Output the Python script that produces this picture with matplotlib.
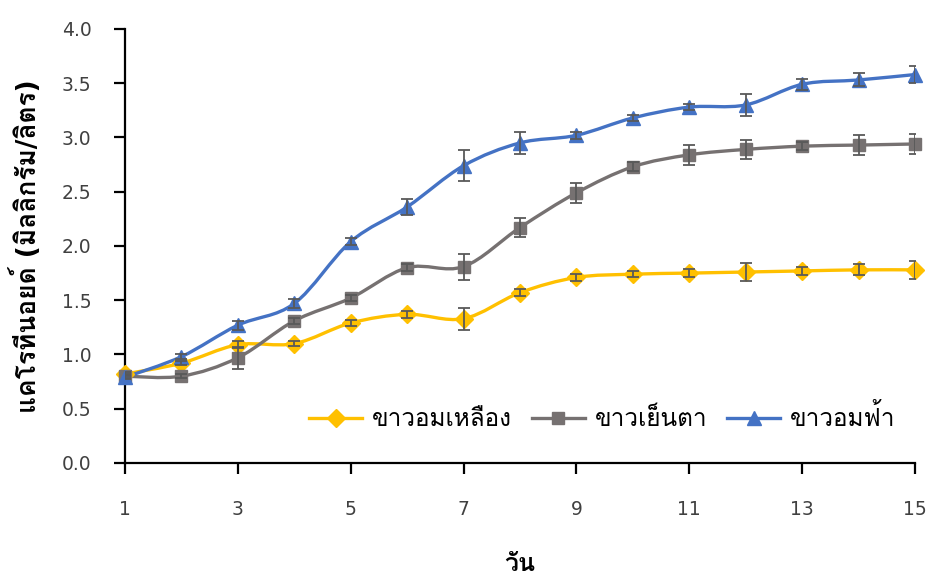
import numpy as np
import matplotlib
matplotlib.use("Agg")
import matplotlib.pyplot as plt
from matplotlib import font_manager
from matplotlib.ft2font import FT2Font
from matplotlib.path import Path
from matplotlib.patches import PathPatch
from matplotlib.lines import Line2D

# ===========================================================================
# data
days = [1, 2, 3, 4, 5, 6, 7, 8, 9, 10, 11, 12, 13, 14, 15]

yellow = [0.82, 0.92, 1.09, 1.10, 1.29, 1.37, 1.33, 1.57, 1.71, 1.74, 1.75, 1.76, 1.77, 1.78, 1.78]
yellow_err = [0.02, 0.02, 0.03, 0.02, 0.03, 0.03, 0.10, 0.03, 0.03, 0.03, 0.04, 0.08, 0.04, 0.05, 0.08]

gray = [0.80, 0.80, 0.97, 1.31, 1.52, 1.80, 1.81, 2.17, 2.49, 2.73, 2.84, 2.89, 2.92, 2.93, 2.94]
gray_err = [0.02, 0.02, 0.10, 0.03, 0.03, 0.03, 0.12, 0.09, 0.09, 0.04, 0.09, 0.09, 0.04, 0.09, 0.09]

blue = [0.79, 0.98, 1.27, 1.47, 2.04, 2.36, 2.74, 2.95, 3.02, 3.18, 3.28, 3.30, 3.49, 3.53, 3.58]
blue_err = [0.02, 0.02, 0.04, 0.04, 0.03, 0.07, 0.14, 0.10, 0.03, 0.03, 0.03, 0.10, 0.05, 0.06, 0.08]

names = ["ขาวอมเหลือง", "ขาวเย็นตา", "ขาวอมฟ้า"]
xticks = [1, 3, 5, 7, 9, 11, 13, 15]
yticks = [0.0, 0.5, 1.0, 1.5, 2.0, 2.5, 3.0, 3.5, 4.0]


# ===========================================================================
# find an installed font that has Thai glyphs
def thai_family():
    for f in font_manager.fontManager.ttflist:
        try:
            if 0x0E02 in FT2Font(f.fname).get_charmap():
                return f.name
        except Exception:
            pass
    return "DejaVu Sans"


thai = thai_family()
plt.rcParams["font.family"] = ["DejaVu Sans", thai]


# smooth line like Excel (Catmull-Rom as cubic bezier)
def smooth_path(x, y):
    pts = np.column_stack([x, y]).astype(float)
    verts = [pts[0]]
    codes = [Path.MOVETO]
    n = len(pts)
    for i in range(n - 1):
        p0 = pts[max(i - 1, 0)]
        p1 = pts[i]
        p2 = pts[i + 1]
        p3 = pts[min(i + 2, n - 1)]
        verts += [p1 + (p2 - p0) / 6, p2 - (p3 - p1) / 6, p2]
        codes += [Path.CURVE4] * 3
    return Path(verts, codes)


fig = plt.figure(figsize=(9.28, 5.76), dpi=100)
ax = fig.add_axes([0.1347, 0.1962, 0.8513, 0.7535])

series = [
    (yellow, yellow_err, "#FFC000", "D", 9),
    (gray, gray_err, "#767171", "s", 8),
    (blue, blue_err, "#4472C4", "^", 10),
]

handles = []
for (vals, err, color, marker, ms), name in zip(series, names):
    ax.add_patch(PathPatch(smooth_path(days, vals), facecolor="none",
                           edgecolor=color, lw=2.4, zorder=2))
    ax.plot(days, vals, linestyle="none", marker=marker, ms=ms,
            color=color, zorder=3, clip_on=False)
    ax.errorbar(days, vals, yerr=err, fmt="none", ecolor="#595959",
                elinewidth=1.3, capsize=4, capthick=1.3, zorder=4)
    handles.append(Line2D([], [], color=color, lw=2.4, marker=marker,
                          ms=ms, label=name))

ax.set_xlim(1, 15)
ax.set_ylim(0, 4)
ax.set_xticks(xticks)
ax.set_yticks(yticks)
ax.set_yticklabels([f"{v:.1f}" for v in yticks])

for s in ["top", "right"]:
    ax.spines[s].set_visible(False)
for s in ["left", "bottom"]:
    ax.spines[s].set_linewidth(1.6)
ax.tick_params(axis="both", direction="out", length=8, width=1.6,
               labelsize=13.5, labelcolor="#404040")
ax.tick_params(axis="x", pad=19)
ax.tick_params(axis="y", pad=16)

ax.set_ylabel("แคโรทีนอยด์ (มิลลิกรัม/ลิตร)", fontsize=19, fontweight="bold")
ax.yaxis.set_label_coords(-0.105, 0.5)
ax.set_xlabel("วัน", fontsize=18, fontweight="bold")
ax.xaxis.set_label_coords(0.5, -0.205)

ax.legend(handles=handles, loc="center", bbox_to_anchor=(0.604, 0.104),
          ncol=3, frameon=False, fontsize=17.5, handlelength=2.2,
          handletextpad=0.4, columnspacing=0.8)

plt.savefig("out.png", dpi=100)
